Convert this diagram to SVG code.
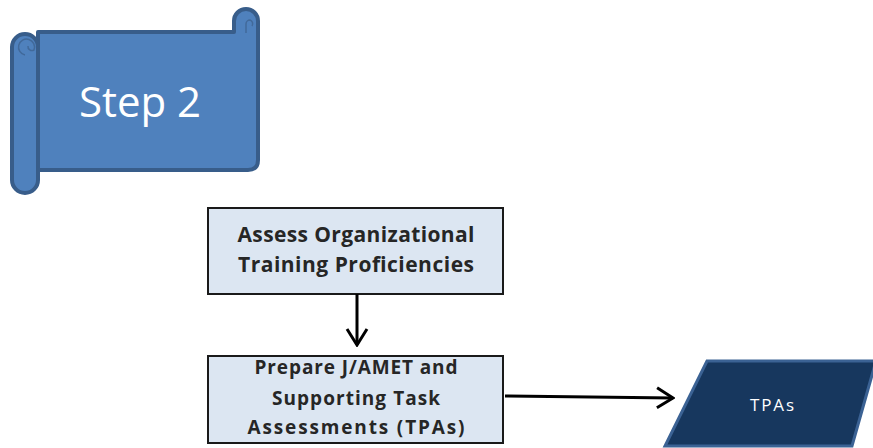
<svg xmlns="http://www.w3.org/2000/svg" width="873" height="448" viewBox="0 0 873 448">
<defs>
<style>
.scroll{fill:#4f81bd;stroke:#385d8a;stroke-width:4;stroke-linejoin:round}
.curl{fill:none;stroke:#41699a;stroke-width:1.5}
.box{fill:#dce6f2;stroke:#1a1a1a;stroke-width:2}
.bt{font-family:"Open Sans","Liberation Sans",sans-serif;font-weight:bold;fill:#262626;text-anchor:middle}
.conn{stroke:#000;stroke-width:3;fill:none}
</style>
<marker id="arr" viewBox="0 0 24 24" refX="22" refY="12" markerWidth="24" markerHeight="24" markerUnits="userSpaceOnUse" orient="auto">
<path d="M6,2 L22,12 L6,22" fill="none" stroke="#000" stroke-width="3"/>
</marker>
</defs>
<rect width="873" height="448" fill="#fff"/>
<g id="step2">
<path class="scroll" d="M38,32 L234,32 L234,21 A12,12 0 0 1 258,21 L258,160 Q258,170 248,170 L38,170 Z"/>
<path class="curl" d="M246,33 L246,24 A4,4 0 0 1 250,20 A4,4 0 0 1 252,26"/>
<rect class="scroll" x="12" y="34" width="26" height="159" rx="13"/>
<path class="curl" d="M25,55 A8,8 0 1 1 34,50 A4,4 0 0 1 28,46"/>
<text x="140" y="117" font-family="Open Sans,Liberation Sans,sans-serif" font-size="42" fill="#fff" text-anchor="middle">Step 2</text>
</g>
<g id="assess">
<rect class="box" x="208" y="208" width="295" height="86"/>
<text class="bt" x="356" y="242" font-size="21" textLength="237" lengthAdjust="spacing">Assess Organizational</text>
<text class="bt" x="356" y="272" font-size="21" textLength="236" lengthAdjust="spacing">Training Proficiencies</text>
</g>
<g id="prepare">
<rect class="box" x="208" y="356" width="295" height="87"/>
<text class="bt" x="356" y="374" font-size="19" textLength="203" lengthAdjust="spacing">Prepare J/AMET and</text>
<text class="bt" x="356" y="405" font-size="19" textLength="168" lengthAdjust="spacing">Supporting Task</text>
<text class="bt" x="356" y="434" font-size="19" textLength="217" lengthAdjust="spacing">Assessments (TPAs)</text>
</g>
<g id="tpas">
<polygon points="707,361 876,361 852,446 665,446" fill="#17375e" stroke="#3b6294" stroke-width="3"/>
<text x="772" y="411" font-family="Open Sans,Liberation Sans,sans-serif" font-size="17" fill="#fff" text-anchor="middle" textLength="44" lengthAdjust="spacing">TPAs</text>
</g>
<g id="connectors">
<line class="conn" x1="357" y1="294" x2="357" y2="345" marker-end="url(#arr)"/>
<line class="conn" x1="505" y1="396" x2="673" y2="398" marker-end="url(#arr)"/>
</g>
</svg>
